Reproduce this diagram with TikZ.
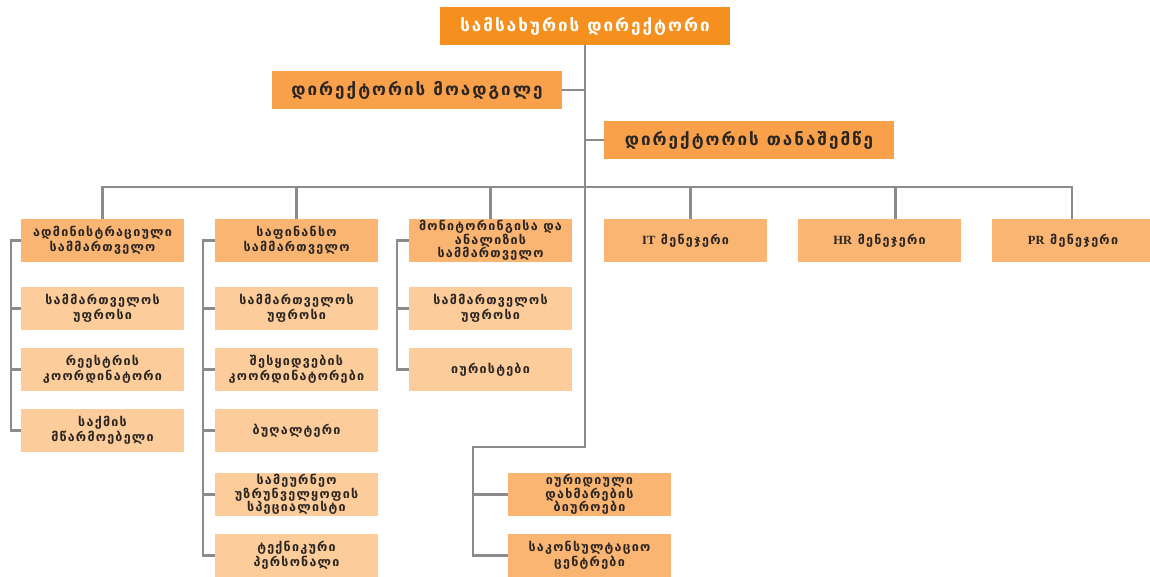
\documentclass[tikz,border=0pt]{standalone}
\usepackage{fontspec}
\setmainfont{Liberation Serif}
\newfontfamily\geo[LetterSpace=10]{DejaVu Sans}
\newfontfamily\geohead[LetterSpace=12]{DejaVu Sans}
\definecolor{toporange}{HTML}{F5901F}
\definecolor{deporange}{HTML}{F8A04A}
\definecolor{midorange}{HTML}{FAB572}
\definecolor{paleorange}{HTML}{FCCC9A}
\definecolor{linegray}{HTML}{8B8B8D}
\definecolor{inkdark}{HTML}{2B2522}
\tikzset{
  unit/.style={inner sep=0pt, align=center, text=inkdark,
    minimum width=163pt, minimum height=43pt,
    font=\geo\bfseries\fontsize{12.5}{15}\selectfont},
  threeline/.style={font=\geo\bfseries\fontsize{12.5}{13.6}\selectfont},
  headbox/.style={unit, fill=toporange, text=white, minimum width=290pt,
    minimum height=38pt, font=\geohead\bfseries\fontsize{17}{19}\selectfont},
  staffbox/.style={headbox, fill=deporange, text=inkdark},
  deptbox/.style={unit, fill=midorange},
  subbox/.style={unit, fill=paleorange},
  link/.style={draw=linegray, line width=2.6pt}
}
\begin{document}
\begin{tikzpicture}[x=1pt, y=-1pt]
  \useasboundingbox (0,0) rectangle (1150,576);
  % top of the chart
  \node[headbox] (dir) at (585,26) {სამსახურის დირექტორი};
  \node[staffbox] (dep) at (417,90) {დირექტორის მოადგილე};
  \node[staffbox] (asst) at (749,140) {დირექტორის თანაშემწე};
  % departments
  \node[deptbox] (adm) at (102.5,240.5) {ადმინისტრაციული\\სამმართველო};
  \node[deptbox] (fin) at (296.5,240.5) {საფინანსო\\სამმართველო};
  \node[deptbox, threeline] (mon) at (490.5,240.5) {მონიტორინგისა და\\ანალიზის\\სამმართველო};
  \node[deptbox] (it) at (685.5,240.5) {{\rmfamily\bfseries IT} მენეჯერი};
  \node[deptbox] (hr) at (879.5,240.5) {{\rmfamily\bfseries HR} მენეჯერი};
  \node[deptbox] (pr) at (1073,240.5) {{\rmfamily\bfseries PR} მენეჯერი};
  % staff under the departments
  \node[subbox] (a1) at (102.5,308.5) {სამმართველოს\\უფროსი};
  \node[subbox] (a2) at (102.5,369.5) {რეესტრის\\კოორდინატორი};
  \node[subbox] (a3) at (102.5,430.5) {საქმის\\მწარმოებელი};
  \node[subbox] (f1) at (296.5,308.5) {სამმართველოს\\უფროსი};
  \node[subbox] (f2) at (296.5,369.5) {შესყიდვების\\კოორდინატორები};
  \node[subbox] (f3) at (296.5,430.5) {ბუღალტერი};
  \node[subbox, threeline] (f4) at (296.5,494.5) {სამეურნეო\\უზრუნველყოფის\\სპეციალისტი};
  \node[subbox] (f5) at (296.5,555.5) {ტექნიკური\\პერსონალი};
  \node[subbox] (m1) at (490.5,308.5) {სამმართველოს\\უფროსი};
  \node[subbox] (m2) at (490.5,369.5) {იურისტები};
  \node[deptbox, threeline] (bur) at (589.5,494.5) {იურიდიული\\დახმარების\\ბიუროები};
  \node[deptbox] (cen) at (589.5,555.5) {საკონსულტაციო\\ცენტრები};
  % helper points
  \coordinate (bus) at (586,187);
  \coordinate (lturn) at (473,447);
  \coordinate (aspine) at (11,0);
  \coordinate (fspine) at (203,0);
  \coordinate (mspine) at (397,0);
  \begin{scope}[link]
    \draw (dir.south) |- (lturn) |- (cen.west);
    \draw (bur.west) -- (bur.west -| lturn);
    \draw (dep.east) -- (dep.east -| dir.south);
    \draw (asst.west) -- (asst.west -| dir.south);
    \draw (adm.north) |- (bus) -| ([xshift=-1pt]pr.north);
    \draw (fin.north) -- (fin.north |- bus);
    \draw (mon.north) -- (mon.north |- bus);
    \draw ([xshift=5pt]it.north) -- ([xshift=5pt]it.north |- bus);
    \draw ([xshift=16pt]hr.north) -- ([xshift=16pt]hr.north |- bus);
    \draw (adm.west) -| (aspine |- a3.west) -- (a3.west);
    \draw (a1.west) -- (a1.west -| aspine);
    \draw (a2.west) -- (a2.west -| aspine);
    \draw (fin.west) -| (fspine |- f5.west) -- (f5.west);
    \draw (f1.west) -- (f1.west -| fspine);
    \draw (f2.west) -- (f2.west -| fspine);
    \draw (f3.west) -- (f3.west -| fspine);
    \draw (f4.west) -- (f4.west -| fspine);
    \draw (mon.west) -| (mspine |- m2.west) -- (m2.west);
    \draw (m1.west) -- (m1.west -| mspine);
  \end{scope}
\end{tikzpicture}
\end{document}
